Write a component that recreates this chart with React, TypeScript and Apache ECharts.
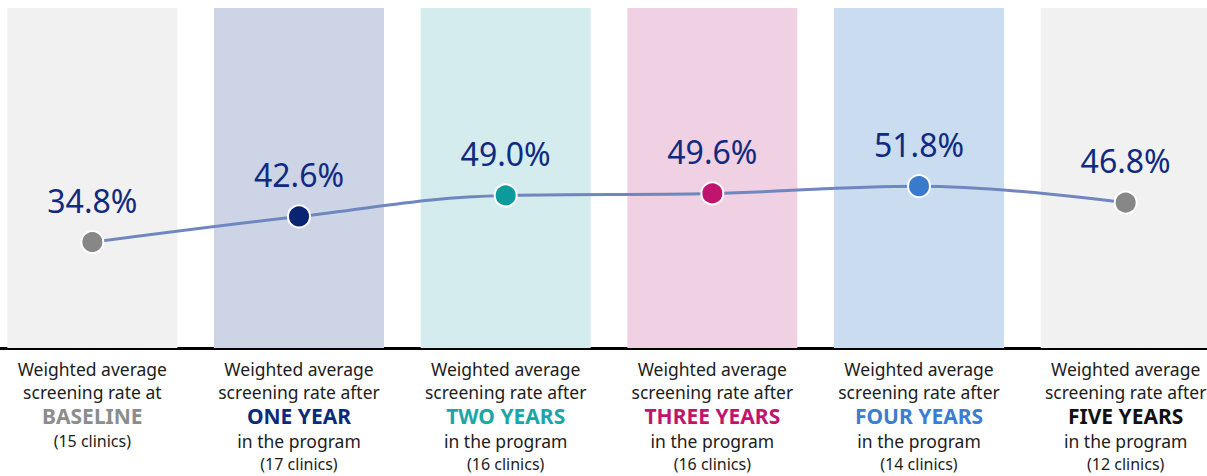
import React, { useEffect, useRef } from "react";
import * as echarts from "echarts";

const categories = ["BASELINE", "ONE YEAR", "TWO YEARS", "THREE YEARS", "FOUR YEARS", "FIVE YEARS"];
const rates = [34.8, 42.6, 49.0, 49.6, 51.8, 46.8];
const clinics = [15, 17, 16, 16, 14, 12];
const secondLines = [
  "screening rate at",
  "screening rate after",
  "screening rate after",
  "screening rate after",
  "screening rate after",
  "screening rate after",
];
const showProgram = [false, true, true, true, true, true];
const pointColors = ["#878787", "#0a2472", "#0d9a9c", "#c0146f", "#3a7acb", "#878787"];
const bandColors = ["#f1f1f1", "#cdd4e6", "#d4ecee", "#f0d1e3", "#cadcf0", "#f1f1f1"];
const keyColors = ["#8c8c8c", "#0b2a7a", "#1aa6a8", "#c0146f", "#3b7dd0", "#111111"];

const Y_MIN = 2.6;
const Y_MAX = 106;

export default function App() {
  const ref = useRef<HTMLDivElement>(null);
  useEffect(() => {
    document.body.style.margin = "0";
    document.body.style.overflow = "hidden";
    document.documentElement.style.overflow = "hidden";
    if (!ref.current) return;
    const chart = echarts.init(ref.current, undefined, { renderer: "svg" });
    const rich: Record<string, any> = {
      n: { fontSize: 17.5, color: "#1c1c1c", lineHeight: 23, fontFamily: "Noto Sans" },
      s: { fontSize: 16, color: "#1c1c1c", lineHeight: 24, fontFamily: "Noto Sans" },
    };
    categories.forEach((c, i) => {
      rich["k" + i] = {
        fontSize: 21,
        fontWeight: "bold",
        color: keyColors[i],
        lineHeight: 26,
        fontFamily: "Noto Sans",
      };
    });
    chart.setOption({
      animation: false,
      grid: { left: 0, right: 0, top: 8, bottom: 128, containLabel: false },
      xAxis: {
        type: "category",
        data: categories,
        axisLine: { show: true, lineStyle: { color: "#000", width: 3 } },
        axisTick: { show: false },
        axisLabel: {
          interval: 0,
          margin: 9,
          verticalAlign: "top",
          formatter: (val: string, idx: number) => {
            const lines = [
              "{n|Weighted average}",
              "{n|" + secondLines[idx] + "}",
              "{k" + idx + "|" + val + "}",
            ];
            if (showProgram[idx]) lines.push("{n|in the program}");
            lines.push("{s|(" + clinics[idx] + " clinics)}");
            return lines.join("\n");
          },
          rich,
        },
      },
      yAxis: {
        type: "value",
        min: Y_MIN,
        max: Y_MAX,
        show: false,
        splitLine: { show: false },
      },
      series: [
        {
          type: "bar",
          data: categories.map((c, i) => ({ value: Y_MAX, itemStyle: { color: bandColors[i] } })),
          barWidth: 170,
          clip: true,
          silent: true,
          z: 1,
        },
        {
          type: "line",
          data: rates.map((r, i) => ({ value: r, itemStyle: { color: pointColors[i] } })),
          smooth: 0.4,
          symbol: "circle",
          symbolSize: 22,
          lineStyle: { color: "#6f86bf", width: 3 },
          itemStyle: { borderColor: "#ffffff", borderWidth: 2 },
          label: {
            show: true,
            position: "top",
            distance: 14,
            fontSize: 32,
            color: "#0f2a80",
            fontFamily: "Noto Sans",
            formatter: (p: any) => Number(p.value).toFixed(1) + "%",
          },
          z: 3,
        },
      ],
    });
    return () => chart.dispose();
  }, []);
  return (
    <div
      ref={ref}
      style={{ position: "absolute", left: -11, top: 0, width: 1240, height: 476 }}
    />
  );
}
